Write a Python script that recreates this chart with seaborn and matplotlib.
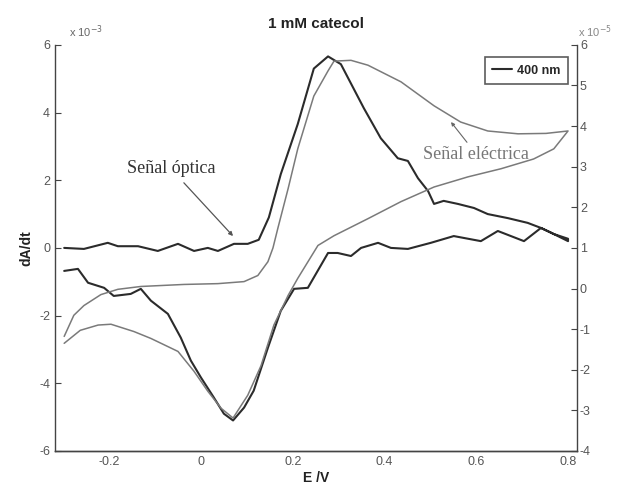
import numpy as np
import pandas as pd
import matplotlib
matplotlib.use('Agg')
import matplotlib.pyplot as plt
import seaborn as sns

# optical signal (dA/dt, x1e-3), forward then reverse scan
E_opt = [-0.298, -0.255, -0.203, -0.181, -0.137, -0.094, -0.050, -0.015, 0.015, 0.037,
         0.072, 0.102, 0.126, 0.148, 0.174, 0.211, 0.246, 0.277, 0.305, 0.355,
         0.392, 0.429, 0.451, 0.473, 0.495, 0.508, 0.529, 0.560, 0.595, 0.625,
         0.669, 0.712, 0.741, 0.769, 0.800,
         0.800, 0.763, 0.741, 0.704, 0.647, 0.610, 0.551, 0.501, 0.451, 0.414,
         0.386, 0.349, 0.327, 0.298, 0.277, 0.233, 0.203, 0.174, 0.146, 0.115,
         0.094, 0.070, 0.050, 0.028, 0.000, -0.022, -0.044, -0.072, -0.109, -0.131,
         -0.153, -0.190, -0.211, -0.246, -0.268, -0.298]
dAdt = [0.0, -0.03, 0.15, 0.05, 0.05, -0.09, 0.12, -0.09, 0.0, -0.09,
        0.12, 0.12, 0.24, 0.9, 2.18, 3.66, 5.3, 5.66, 5.43, 4.13,
        3.24, 2.65, 2.57, 2.06, 1.68, 1.30, 1.39, 1.30, 1.18, 1.0,
        0.88, 0.74, 0.59, 0.41, 0.27,
        0.2, 0.45, 0.59, 0.2, 0.5, 0.2, 0.35, 0.15, -0.03, 0.0,
        0.15, 0.0, -0.24, -0.15, -0.15, -1.18, -1.21, -1.86, -2.95, -4.22,
        -4.72, -5.1, -4.9, -4.42, -3.83, -3.33, -2.65, -1.95, -1.56, -1.21,
        -1.36, -1.42, -1.18, -1.03, -0.62, -0.68]

# electrical signal (current, x1e-5)
E_el = [-0.298, -0.277, -0.255, -0.218, -0.181, -0.131, -0.037, 0.037, 0.094, 0.124,
        0.146, 0.157, 0.168, 0.190, 0.211, 0.246, 0.277, 0.290, 0.327, 0.364, 0.436,
        0.508, 0.566, 0.625, 0.691, 0.752, 0.800,
        0.769, 0.725, 0.654, 0.582, 0.508, 0.436, 0.364, 0.290, 0.255, 0.211,
        0.190, 0.159, 0.131, 0.102, 0.070, 0.044, 0.015, -0.015, -0.050, -0.109,
        -0.146, -0.196, -0.224, -0.263, -0.298]
I_el = [-1.18, -0.66, -0.42, -0.15, -0.02, 0.05, 0.10, 0.12, 0.17, 0.32,
        0.66, 1.0, 1.5, 2.46, 3.44, 4.74, 5.36, 5.6, 5.62, 5.5, 5.09,
        4.5, 4.1, 3.88, 3.81, 3.82, 3.88,
        3.44, 3.19, 2.95, 2.75, 2.5, 2.14, 1.72, 1.30, 1.06, 0.25,
        -0.17, -0.9, -1.9, -2.63, -3.19, -2.95, -2.53, -2.04, -1.55, -1.23,
        -1.06, -0.88, -0.90, -1.03, -1.35]

sns.set_style('white')
plt.rcParams['font.family'] = ['Liberation Sans', 'DejaVu Sans']
plt.rcParams['axes.unicode_minus'] = False

fig = plt.figure(figsize=(6.18, 4.88), dpi=100)
ax = fig.add_axes([0.089, 0.076, 0.845, 0.832])
ax2 = ax.twinx()

df_opt = pd.DataFrame({'E': E_opt, 'v': dAdt})
df_el = pd.DataFrame({'E': E_el, 'v': I_el})

sns.lineplot(data=df_opt, x='E', y='v', sort=False, estimator=None, ax=ax,
             color='#2b2b2b', lw=1.5, label='400 nm')
sns.lineplot(data=df_el, x='E', y='v', sort=False, estimator=None, ax=ax2,
             color='#7a7a7a', lw=1.1, legend=False)

ax.set_xlim(-0.318, 0.82)
ax.set_ylim(-6, 6)
ax2.set_ylim(-4, 6)
ax.set_xticks([-0.2, 0, 0.2, 0.4, 0.6, 0.8])
ax.set_xticklabels(['-0.2', '0', '0.2', '0.4', '0.6', '0.8'])
ax.set_yticks([-6, -4, -2, 0, 2, 4, 6])
ax2.set_yticks(range(-4, 7))

for a in (ax, ax2):
    a.spines['top'].set_visible(False)
    for s in ('left', 'right', 'bottom'):
        a.spines[s].set_color('#444444')
        a.spines[s].set_linewidth(1.0)
    a.tick_params(direction='in', length=4, width=0.8, colors='#444444',
                  labelsize=9, labelcolor='#555555')
ax2.spines['left'].set_visible(False)
ax.spines['right'].set_visible(False)
ax.tick_params(axis='y', left=True, right=False)
ax2.tick_params(axis='y', right=True, pad=2)

ax.set_xlabel('E /V', fontsize=10, fontweight='bold', labelpad=2, color='#222222')
ax.set_ylabel('dA/dt', fontsize=10, fontweight='bold', labelpad=4, color='#222222')
ax2.set_ylabel('')
ax.set_title('1 mM catecol', fontsize=11, fontweight='bold', pad=12, color='#222222')

fig.text(0.112, 0.925, r'x 10$^{-3}$', fontsize=8, color='#666666')
fig.text(0.935, 0.925, r'x 10$^{-5}$', fontsize=8, color='#888888')

ax.annotate('Señal óptica', xy=(0.07, 0.35), xytext=(-0.065, 2.2),
            fontsize=13, family='Liberation Serif', color='#333333', ha='center',
            arrowprops=dict(arrowstyle='-|>', color='#555555', lw=0.9,
                            mutation_scale=6, shrinkA=2, shrinkB=0))
ax2.annotate('Señal eléctrica', xy=(0.545, 4.1), xytext=(0.6, 3.2),
             fontsize=13, family='Liberation Serif', color='#777777', ha='center',
             arrowprops=dict(arrowstyle='-|>', color='#666666', lw=0.8,
                             mutation_scale=5, shrinkA=0, shrinkB=0))

leg = ax.legend(loc='upper right', bbox_to_anchor=(0.995, 0.985), frameon=True,
                fancybox=False, fontsize=9, handlelength=1.6, borderpad=0.6,
                handletextpad=0.4)
leg.get_frame().set_edgecolor('#333333')
leg.get_frame().set_linewidth(1.2)
for t in leg.get_texts():
    t.set_fontweight('bold')

fig.savefig('out.png', dpi=100)
